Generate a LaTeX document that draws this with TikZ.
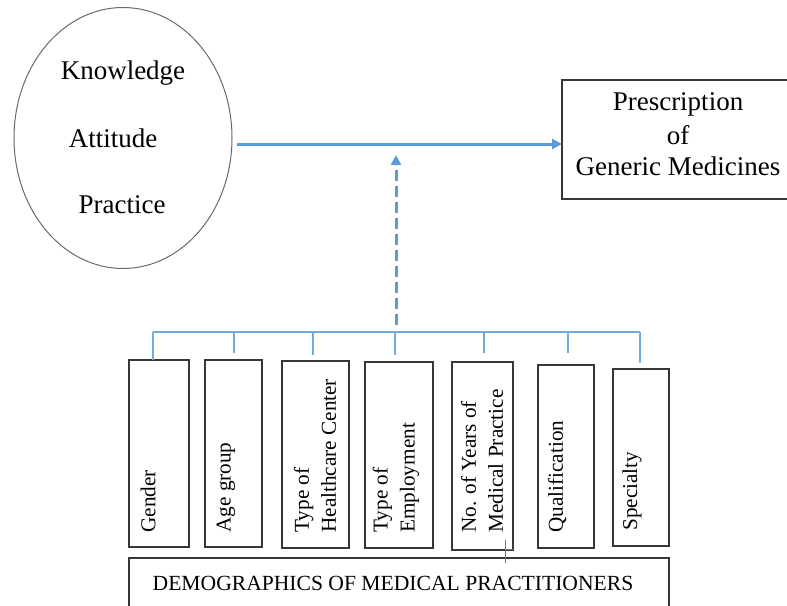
\documentclass[tikz,border=0pt]{standalone}
\usepackage{fontspec}
\setmainfont{Liberation Serif}
\usetikzlibrary{positioning,arrows.meta,shapes.geometric,calc}
\definecolor{flowblue}{RGB}{91,155,213}
\definecolor{edge}{RGB}{55,55,55}
\definecolor{rim}{RGB}{105,105,105}

\begin{document}
\begin{tikzpicture}[
  x=0.5pt, y=-0.5pt,
  >={Triangle[length=5pt,width=5pt]},
  big/.style={font=\fontsize{13.5}{15}\selectfont, inner sep=0pt},
  fbox/.style={draw=edge, line width=0.7pt, inner sep=0pt, outer sep=0pt},
  vlab/.style={rotate=90, anchor=west, align=left, inner sep=0pt, font=\fontsize{10.6}{13.5}\selectfont},
  flow/.style={->, draw=flowblue, line width=1.5pt},
  brk/.style={draw=flowblue!85, line width=1pt}
]
\useasboundingbox (0,0) rectangle (787,605);

% ---------------- KAP ELLIPSE ----------------
\node (kap) at (123,138) [ellipse, draw=rim, line width=0.5pt, minimum width=109pt, minimum height=130.5pt, inner sep=0pt, outer sep=0pt] {};
\node (know) at (123,73)  [big] {Knowledge};
\node (att)  at (113,138) [big] {Attitude};
\node (prac) at (122,205) [big] {Practice};

% ---------------- OUTCOME ----------------
\node (presc) at (677,139.5) [fbox, minimum width=115pt, minimum height=59.5pt] {};
\node (presc1) at (678,104) [big] {Prescription};
\node (presc2) at (678,135) [big] {of};
\node (presc3) at (678,166) [big] {Generic Medicines};
\draw[flow] ([shift={(5,6)}]kap.east) -- ([shift={(0,4.5)}]presc.west);

% ---------------- DEMOGRAPHIC BOXES ----------------
\node (gender) at (159,453.5) [fbox, minimum width=30pt,   minimum height=93.5pt] {};
\node (age)    at (233.5,453.5) [fbox, minimum width=28.5pt, minimum height=93.5pt] {};
\node (hcc)    at (315.5,454.5) [fbox, minimum width=33.5pt, minimum height=93.5pt] {};
\node (emp)    at (399,455) [fbox, minimum width=34pt,   minimum height=93pt] {};
\node (yrs)    at (482.5,456) [fbox, minimum width=30.5pt, minimum height=94pt] {};
\node (qual)   at (566,456.5) [fbox, minimum width=28pt,   minimum height=91.5pt] {};
\node (spec)   at (641,457.5) [fbox, minimum width=28pt,   minimum height=88.5pt] {};

\node (genderT) at (148,533) [vlab] {Gender};
\node (ageT)    at (226,533) [vlab] {Age group};
\node (hccT)    at (315,533) [vlab] {Type of\\Healthcare Center};
\node (empT)    at (396,533) [vlab] {Type of\\Employment};
\node (yrsT)    at (482,533) [vlab] {No. of Years of\\Medical Practice};
\node (qualT)   at (557,533) [vlab] {Qualification};
\node (specT)   at (632,531) [vlab] {Specialty};

\node (demo) at (399,591.5) [fbox, minimum width=270pt, minimum height=33.5pt] {};
\node (demoT) at (393,583) [inner sep=0pt, font=\fontsize{10.8}{13}\selectfont] {DEMOGRAPHICS OF MEDICAL PRACTITIONERS};
\draw[edge!70, line width=0.5pt] (505,540) -- (505,563) (505,549) -- (yrs.south east |- 0,549);

% ---------------- BRACKET + MODERATOR ----------------
\coordinate (barL) at (153,332);
\coordinate (barR) at (640,332);
\coordinate (barM) at (396,332);
\coordinate (joint) at (396,155);
\draw[brk] (barL) -- (barR);
\draw[brk] (barL) -- (barL |- gender.north);
\foreach \b/\bx/\gap in {age/234/3.5, hcc/313/3, emp/395/3.5, yrs/484/4.5, qual/568/6, spec/640/3}
  \draw[brk] (\bx,332) -- ([yshift=\gap pt]\b.north -| \bx,0);
\draw[flow, dash pattern=on 5.5pt off 2.5pt, shorten <=3.5pt] (barM) -- (joint);

\end{tikzpicture}
\end{document}
